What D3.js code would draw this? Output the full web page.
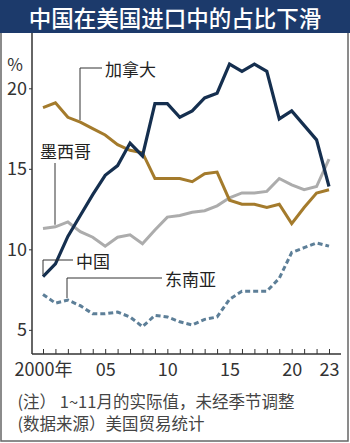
<!DOCTYPE html>
<html>
<head>
<meta charset="utf-8">
<script src="https://cdn.jsdelivr.net/npm/d3@7/dist/d3.min.js"></script>
<style>
  html, body { margin: 0; padding: 0; background: #fff; }
  svg { display: block; }
  text { font-family: "Noto Sans CJK SC", "Noto Sans", sans-serif; }
</style>
</head>
<body>
<svg id="chart" width="350" height="443"></svg>
<script>
const years = d3.range(2000, 2024);
const china  = [8.3, 9.1, 10.8, 12.1, 13.4, 14.6, 15.2, 16.6, 15.8, 19.05, 19.05, 18.2, 18.6, 19.4, 19.7, 21.5, 21.05, 21.5, 21.05, 18.1, 18.6, 17.7, 16.8, 13.9];
const canada = [18.8, 19.1, 18.2, 17.9, 17.5, 17.1, 16.5, 16.15, 16.0, 14.4, 14.4, 14.4, 14.2, 14.7, 14.8, 13.05, 12.8, 12.8, 12.6, 12.8, 11.6, 12.6, 13.5, 13.7];
const mexico = [11.3, 11.4, 11.7, 11.1, 10.75, 10.2, 10.75, 10.9, 10.35, 11.2, 12.0, 12.1, 12.3, 12.4, 12.7, 13.2, 13.5, 13.5, 13.6, 14.4, 14.0, 13.7, 13.9, 15.6];
const seAsia = [7.2, 6.66, 6.85, 6.5, 6.0, 6.0, 6.1, 5.8, 5.2, 5.9, 5.8, 5.5, 5.3, 5.65, 5.8, 6.9, 7.4, 7.4, 7.4, 8.2, 9.8, 10.1, 10.4, 10.2];
const yTicks = [5, 10, 15, 20];
const xLabelYears = [2000, 2005, 2010, 2015, 2020, 2023];
const xLabelText = ["2000年", "05", "10", "15", "20", "23"];
const seriesNames = ["中国", "加拿大", "墨西哥", "东南亚"];
const titleText = "中国在美国进口中的占比下滑";
const notes = ["(注） 1~11月的实际值，未经季节调整", "(数据来源）美国贸易统计"];

const svg = d3.select("#chart");
const x = d3.scaleLinear().domain([2000, 2023]).range([43, 329]);
const y = d3.scaleLinear().domain([3.5, 23]).range([354, 40]);

// border
svg.append("rect").attr("x", 1).attr("y", 1).attr("width", 347).attr("height", 440)
  .attr("fill", "#fff").attr("stroke", "#666").attr("stroke-width", 1.5);

// title bar
svg.append("rect").attr("x", 0).attr("y", 0).attr("width", 350).attr("height", 33).attr("fill", "#1c3a6b");
svg.append("text").attr("x", 175).attr("y", 17).attr("text-anchor", "middle")
  .attr("dominant-baseline", "central").attr("fill", "#fff")
  .attr("font-size", 22.5).attr("font-weight", 500).text(titleText);

// axes lines
svg.append("line").attr("x1", 32).attr("x2", 32).attr("y1", 33).attr("y2", 354).attr("stroke", "#333").attr("stroke-width", 1.5);
svg.append("line").attr("x1", 32).attr("x2", 341).attr("y1", 354).attr("y2", 354).attr("stroke", "#333").attr("stroke-width", 1.5);

// y axis
const yAxis = svg.append("g").attr("transform", "translate(32,0)")
  .call(d3.axisLeft(y).tickValues(yTicks).tickSize(3).tickPadding(2).tickFormat(d3.format("d")));
yAxis.select(".domain").remove();
yAxis.selectAll("line").attr("stroke", "#333");
yAxis.selectAll("text").attr("font-size", 18).attr("fill", "#333")
  .attr("font-family", "'Liberation Sans Narrow', 'Noto Sans CJK SC', sans-serif");

svg.append("text").attr("x", 15).attr("y", 63).attr("text-anchor", "middle")
  .attr("dominant-baseline", "central").attr("font-size", 17).attr("fill", "#333").text("%");

// x axis
const xAxis = svg.append("g").attr("transform", "translate(0,354)")
  .call(d3.axisBottom(x).tickValues(years).tickSize(-5).tickPadding(9)
    .tickFormat(d => { const i = xLabelYears.indexOf(d); return i >= 0 ? xLabelText[i] : ""; }));
xAxis.select(".domain").remove();
xAxis.selectAll("line").attr("stroke", "#333");
xAxis.selectAll("text").attr("font-size", 18).attr("fill", "#333")
  .attr("font-family", "'Liberation Sans Narrow', 'Noto Sans CJK SC', sans-serif");

// lines
const line = d3.line().x((d, i) => x(years[i])).y(d => y(d));
function draw(data, color, dash, w) {
  const p = svg.append("path").datum(data).attr("d", line)
    .attr("fill", "none").attr("stroke", color).attr("stroke-width", w)
    .attr("stroke-linejoin", "miter");
  if (dash) p.attr("stroke-dasharray", dash);
}
draw(mexico, "#acacac", null, 3);
draw(canada, "#a47b2c", null, 3);
draw(seAsia, "#5d7f98", "5,3", 3);
draw(china, "#152f4f", null, 3.2);

// labels with leaders
const lab = svg.append("g").attr("font-size", 17).attr("fill", "#222");
function leader(pts) {
  svg.append("path").attr("d", d3.line()(pts)).attr("fill", "none").attr("stroke", "#333").attr("stroke-width", 1);
}
// Canada
leader([[102, 68], [80, 68], [80, y(canada[3]) - 2]]);
lab.append("text").attr("x", 105).attr("y", 68).attr("dominant-baseline", "central").text(seriesNames[1]);
// Mexico
leader([[55, 163], [55, y(mexico[1]) - 2]]);
lab.append("text").attr("x", 40).attr("y", 150).attr("dominant-baseline", "central").text(seriesNames[2]);
// China
leader([[73, 260], [43, 260], [43, y(china[0]) - 2]]);
lab.append("text").attr("x", 76).attr("y", 260).attr("dominant-baseline", "central").text(seriesNames[0]);
// SE Asia
leader([[162, 278], [67, 278], [67, y(seAsia[2]) - 2]]);
lab.append("text").attr("x", 165).attr("y", 278).attr("dominant-baseline", "central").text(seriesNames[3]);

// notes
notes.forEach((t, i) => {
  svg.append("text").attr("x", 17.5).attr("y", 401 + i * 22).attr("dominant-baseline", "central")
    .attr("font-size", 16.5).attr("fill", "#444").attr("xml:space", "preserve").text(t);
});
</script>
</body>
</html>
